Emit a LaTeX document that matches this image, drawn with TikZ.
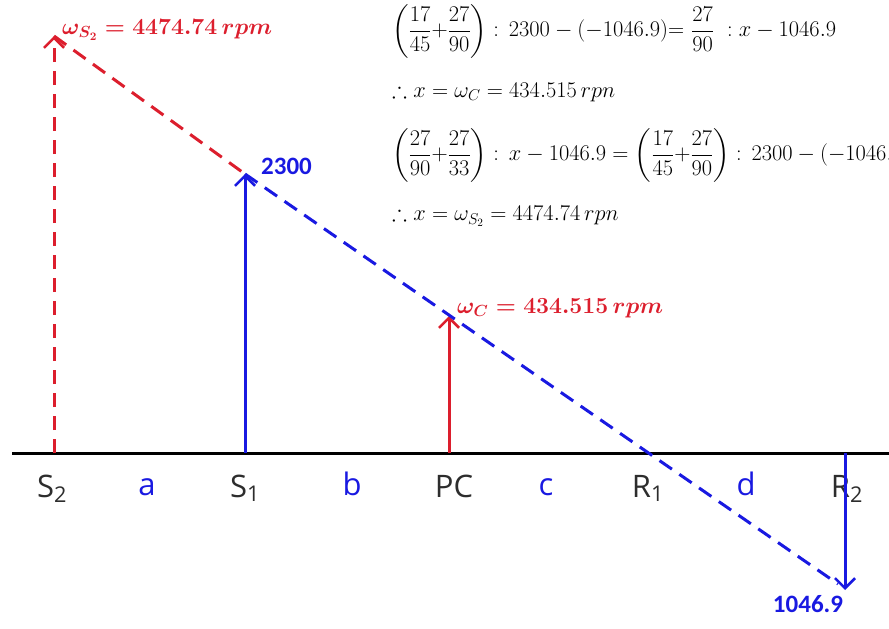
\RequirePackage{fix-cm}
\documentclass[tikz,border=0pt]{standalone}
\usepackage{amsmath,amssymb}
\usepackage{fontspec}
\setsansfont{Open Sans}
\newfontfamily\valfont{Carlito}
\usetikzlibrary{arrows.meta}
\definecolor{velred}{RGB}{220,30,45}
\definecolor{velblue}{RGB}{25,25,225}
\definecolor{axisgray}{RGB}{45,45,45}

\begin{document}
\begin{tikzpicture}[x=1pt,y=-1pt]
    \tikzstyle{every node}+=[inner sep=0pt]
    \tikzstyle{vel}=[line width=3pt,-{Straight Barb[length=10pt,width=20pt,line width=2.6pt]}]
    \tikzstyle{joinline}=[line width=3pt,dash pattern=on 15pt off 9pt]
    \tikzstyle{member}=[font=\sffamily\fontsize{31}{36}\selectfont,text=axisgray,anchor=base]
    \tikzstyle{gaplbl}=[font=\sffamily\fontsize{31}{36}\selectfont,text=velblue,anchor=base]
    \tikzstyle{speed}=[font=\fontsize{23}{27}\selectfont\boldmath,text=velred,anchor=west]
    \tikzstyle{value}=[font=\valfont\bfseries\fontsize{25}{28}\selectfont,text=velblue]
    \tikzstyle{eqn}=[font=\fontsize{22.4}{26}\selectfont,anchor=west]
    \useasboundingbox (0,0) rectangle (889,629);
    % points on the lever line
    \coordinate (s2) at (54,453);
    \coordinate (s1) at (245,453);
    \coordinate (pc) at (449,453);
    \coordinate (r2) at (845,453);
    \coordinate (s2top) at (54,36);
    \coordinate (s1top) at (245,174);
    \coordinate (pctop) at (449,316);
    \coordinate (r2bot) at (845,590);
    \coordinate (lineL) at (12,453);
    \coordinate (lineR) at (889,453);
    \coordinate (dashend) at (838,584);
    % member names
    \node[member] (n-s2) at (52,497) {S\textsubscript{2}};
    \node[gaplbl] (n-a) at (147,495) {a};
    \node[member] (n-s1) at (245,497) {S\textsubscript{1}};
    \node[gaplbl] (n-b) at (352,495) {b};
    \node[member] (n-pc) at (454,497) {PC};
    \node[gaplbl] (n-c) at (546,495) {c};
    \node[member] (n-r1) at (648,497) {R\textsubscript{1}};
    \node[gaplbl] (n-d) at (746,495) {d};
    \node[member] (n-r2) at (847,497) {R\textsubscript{2}};
    % base line
    \draw[line width=3pt,black] (lineL) -- (lineR);
    % speeds
    \draw[vel,velred,dash pattern=on 14pt off 9pt] (s2) -- (s2top);
    \draw[vel,velblue] (s1) -- (s1top);
    \draw[vel,velred] (pc) -- (pctop);
    \draw[vel,velblue] (r2) -- (r2bot);
    \draw[joinline,velred] (s2top) -- (s1top);
    \draw[joinline,velblue] (s1top) -- (dashend);
    % values
    \node[speed] (w-s2) at (62,30) {$\omega_{S_2}=4474.74\,rpm$};
    \node[value,anchor=west] (v-s1) at (261,166) {2300};
    \node[speed] (w-c) at (457,308) {$\omega_{C}=434.515\,rpm$};
    \node[value] (v-r2) at (808,604) {1046.9};
    % working
    \node[eqn] (eq1) at (392,31) {$\displaystyle\left(\frac{17}{45}{+}\frac{27}{90}\right):\,2300-(-1046.9){=}\ \frac{27}{90}\ :x-1046.9$};
    \node[eqn] (eq2) at (392,92) {$\therefore x=\omega_{C}=434.515\,rpn$};
    \node[eqn] (eq3) at (392,155) {$\displaystyle\left(\frac{27}{90}{+}\frac{27}{33}\right):\,x-1046.9=\left(\frac{17}{45}{+}\frac{27}{90}\right):\,2300-(-1046.9)$};
    \node[eqn] (eq4) at (392,216) {$\therefore x=\omega_{S_{\scriptscriptstyle 2}}=4474.74\,rpn$};
\end{tikzpicture}
\end{document}
